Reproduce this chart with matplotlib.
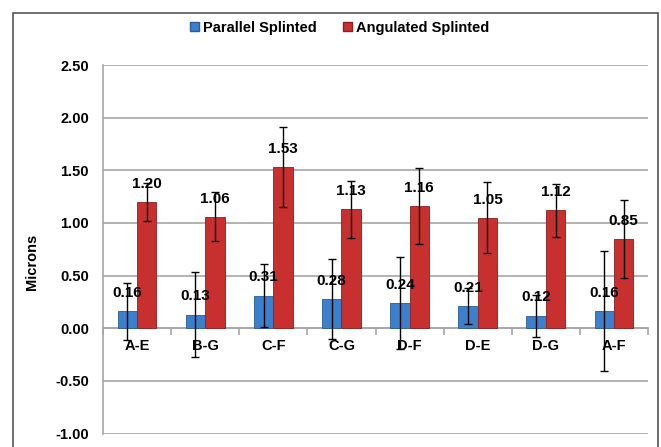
import matplotlib
matplotlib.use("Agg")
import matplotlib.pyplot as plt
import numpy as np
from matplotlib.patches import Rectangle, Patch

categories = ["A-E", "B-G", "C-F", "C-G", "D-F", "D-E", "D-G", "A-F"]
parallel = [0.16, 0.13, 0.31, 0.28, 0.24, 0.21, 0.12, 0.16]
angulated = [1.20, 1.06, 1.53, 1.13, 1.16, 1.05, 1.12, 0.85]
parallel_err = [0.27, 0.40, 0.30, 0.38, 0.44, 0.17, 0.20, 0.57]
angulated_err = [0.18, 0.23, 0.38, 0.27, 0.36, 0.34, 0.25, 0.37]
yticks = [-1.0, -0.5, 0.0, 0.5, 1.0, 1.5, 2.0, 2.5]

FONT = ["Liberation Sans", "DejaVu Sans"]
plt.rcParams["font.family"] = FONT

fig = plt.figure(figsize=(6.61, 4.47), dpi=100)
W, H = 661, 447
ax = fig.add_axes([103 / W, 1 - 433.5 / H, (648 - 103) / W, (433.5 - 65) / H])

x = np.arange(len(categories))
bw = 0.285
blue = "#3c7fca"
red = "#c8302f"
ax.bar(x - bw / 2, parallel, bw, color=blue, edgecolor="#2a5d9a", linewidth=0.6, zorder=3)
ax.bar(x + bw / 2, angulated, bw, color=red, edgecolor="#8e1e1e", linewidth=0.6, zorder=3)
ax.errorbar(x - bw / 2, parallel, yerr=parallel_err, fmt="none", ecolor="black",
            elinewidth=1, capsize=3, capthick=1, zorder=4)
ax.errorbar(x + bw / 2, angulated, yerr=angulated_err, fmt="none", ecolor="black",
            elinewidth=1, capsize=3, capthick=1, zorder=4)

for xi, v in zip(x - bw / 2, parallel):
    ax.annotate(f"{v:.2f}", (xi, v), xytext=(0, 8), textcoords="offset points",
                ha="center", va="bottom", fontsize=11, fontweight="bold", zorder=5)
for xi, v in zip(x + bw / 2, angulated):
    ax.annotate(f"{v:.2f}", (xi, v), xytext=(0, 8), textcoords="offset points",
                ha="center", va="bottom", fontsize=11, fontweight="bold", zorder=5)

ax.set_xlim(-0.5, len(categories) - 0.5)
ax.set_ylim(-1.0, 2.5)
ax.set_yticks(yticks)
ax.set_yticklabels([f"{t:.2f}" for t in yticks], fontsize=10.5, fontweight="bold")
ax.yaxis.grid(True, color="#a6a6a6", linewidth=1.2, zorder=0)
ax.set_axisbelow(True)
ax.tick_params(axis="y", length=0, pad=10)

ax.spines["top"].set_visible(False)
ax.spines["right"].set_visible(False)
ax.spines["left"].set_color("#a6a6a6")
ax.spines["left"].set_linewidth(1.2)
ax.spines["bottom"].set_position(("data", 0))
ax.spines["bottom"].set_color("#a6a6a6")
ax.spines["bottom"].set_linewidth(1.2)

ax.set_xticks(x)
ax.set_xticklabels(categories, fontsize=10.5, fontweight="bold")
ax.tick_params(axis="x", length=0, pad=8)
ax.set_xticks(np.arange(-0.5, len(categories) + 0.5, 1), minor=True)
ax.tick_params(axis="x", which="minor", length=5, color="#a6a6a6", width=1.2, direction="out")

fig.text(32 / W, 1 - 262 / H, "Microns", rotation=90, ha="center", va="center",
         fontsize=10.5, fontweight="bold")

handles = [Patch(facecolor=blue, edgecolor="#2a5d9a"), Patch(facecolor=red, edgecolor="#8e1e1e")]
fig.legend(handles, ["Parallel Splinted", "Angulated Splinted"], loc="center",
           bbox_to_anchor=(340 / W, 1 - 28 / H), ncol=2, frameon=False,
           prop={"weight": "bold", "size": 10.5}, handlelength=0.6, handleheight=0.6,
           handletextpad=0.3, columnspacing=1.8)

fig.patches.append(Rectangle((13 / W, -0.05), (658 - 13) / W, 1 - 13 / H + 0.05,
                             transform=fig.transFigure, fill=False,
                             edgecolor="#555555", linewidth=1.2))

fig.savefig("out.png", dpi=100)
